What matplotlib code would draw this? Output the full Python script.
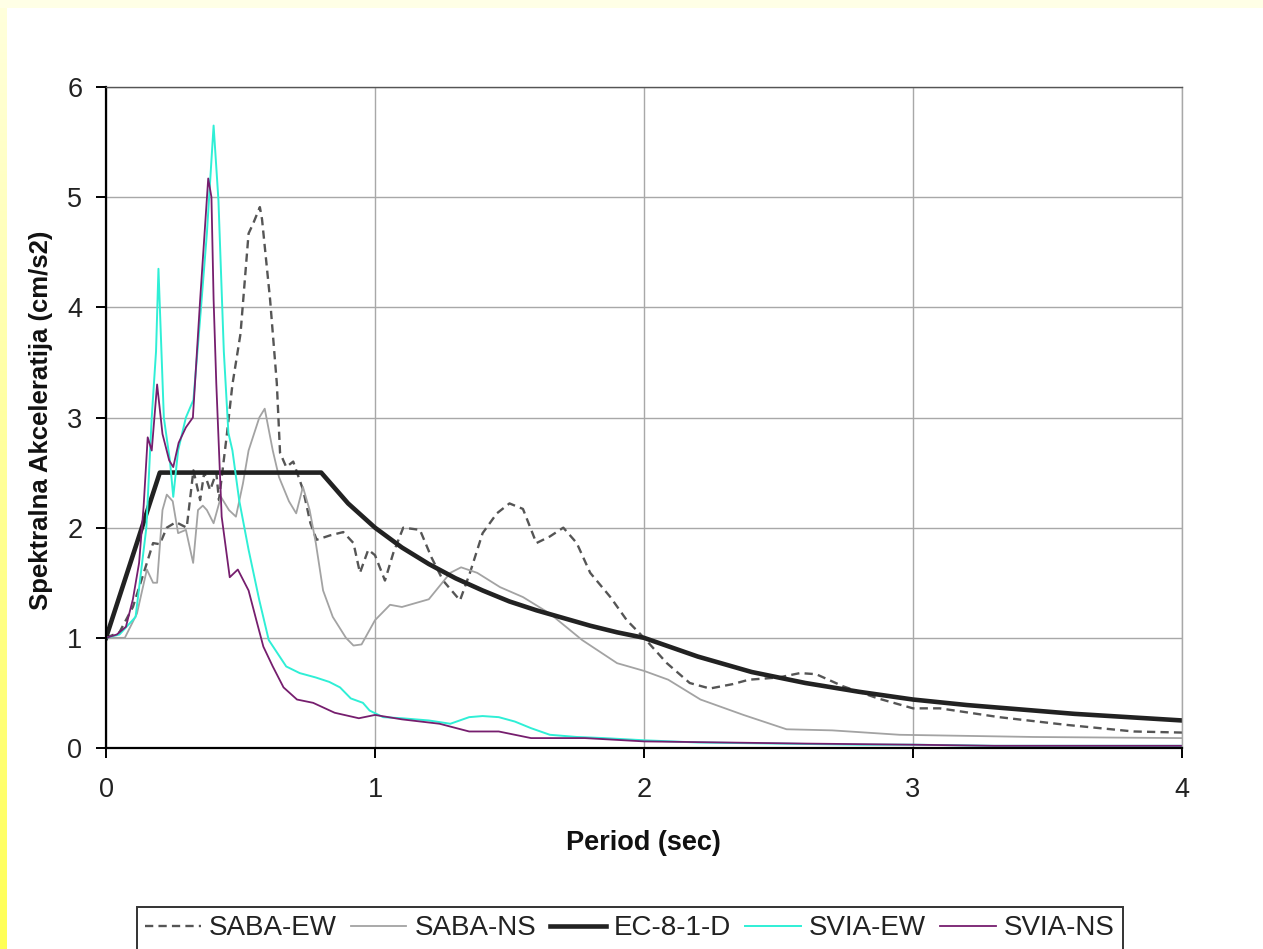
import numpy as np
import matplotlib
matplotlib.use("Agg")
import matplotlib.pyplot as plt
from matplotlib.colors import LinearSegmentedColormap

plt.rcParams['font.family'] = ['Liberation Sans', 'DejaVu Sans']

# ---------------- data ----------------
labels = ["SABA-EW", "SABA-NS", "EC-8-1-D", "SVIA-EW", "SVIA-NS"]

saba_ew_t = [0, 0.05, 0.1, 0.152, 0.175, 0.2, 0.226, 0.26, 0.3, 0.325, 0.35, 0.365, 0.387,
             0.41, 0.42, 0.45, 0.47, 0.5, 0.53, 0.547, 0.572, 0.58, 0.61, 0.635, 0.647, 0.67,
             0.696, 0.733, 0.76, 0.783, 0.833, 0.882, 0.92, 0.944, 0.975, 1.0, 1.037, 1.068,
             1.105, 1.167, 1.21, 1.253, 1.316, 1.353, 1.40, 1.453, 1.50, 1.55, 1.60, 1.65,
             1.70, 1.75, 1.80, 1.875, 1.936, 2.0, 2.085, 2.17, 2.245, 2.33, 2.39, 2.5, 2.58,
             2.64, 2.74, 2.87, 3.0, 3.1, 3.32, 3.57, 3.82, 4.0]
saba_ew_v = [1.0, 1.05, 1.28, 1.68, 1.86, 1.85, 2.0, 2.05, 2.0, 2.52, 2.25, 2.5, 2.34,
             2.5, 2.25, 2.86, 3.3, 3.76, 4.67, 4.76, 4.91, 4.8, 4.07, 3.31, 2.68, 2.55,
             2.6, 2.34, 2.04, 1.89, 1.93, 1.96, 1.86, 1.59, 1.8, 1.75, 1.52, 1.77,
             2.0, 1.98, 1.73, 1.52, 1.34, 1.59, 1.95, 2.13, 2.22, 2.17, 1.86, 1.92,
             2.0, 1.86, 1.59, 1.37, 1.16, 1.0, 0.77, 0.59, 0.54, 0.58, 0.62, 0.64, 0.68,
             0.67, 0.56, 0.45, 0.36, 0.36, 0.28, 0.21, 0.15, 0.14]

saba_ns_t = [0, 0.07, 0.115, 0.152, 0.175, 0.19, 0.21, 0.226, 0.248, 0.268, 0.297, 0.324,
             0.342, 0.36, 0.375, 0.4, 0.427, 0.457, 0.483, 0.509, 0.53, 0.57, 0.59, 0.62,
             0.643, 0.68, 0.707, 0.732, 0.757, 0.78, 0.807, 0.843, 0.892, 0.92, 0.95, 1.0,
             1.056, 1.1, 1.2, 1.28, 1.32, 1.38, 1.465, 1.55, 1.65, 1.77, 1.9, 2.0, 2.09,
             2.21, 2.37, 2.53, 2.7, 2.95, 3.2, 3.45, 4.0]
saba_ns_v = [1.0, 1.0, 1.22, 1.62, 1.5, 1.5, 2.16, 2.3, 2.24, 1.95, 1.98, 1.68,
             2.16, 2.2, 2.16, 2.04, 2.28, 2.16, 2.1, 2.4, 2.7, 3.0, 3.08, 2.7,
             2.46, 2.24, 2.13, 2.37, 2.16, 1.86, 1.43, 1.19, 1.0, 0.93, 0.94, 1.16,
             1.3, 1.28, 1.35, 1.59, 1.64, 1.59, 1.46, 1.37, 1.22, 0.98, 0.77, 0.7, 0.62,
             0.44, 0.3, 0.17, 0.16, 0.12, 0.11, 0.1, 0.09]

ec8_t = [0, 0.2, 0.8, 0.9, 1.0, 1.1, 1.2, 1.3, 1.4, 1.5, 1.6, 1.7, 1.8, 1.9, 2.0,
         2.2, 2.4, 2.6, 2.8, 3.0, 3.2, 3.4, 3.6, 3.8, 4.0]
ec8_v = [1.0, 2.5, 2.5, 2.22, 2.0, 1.82, 1.67, 1.54, 1.43, 1.33, 1.25, 1.18, 1.11, 1.05, 1.0,
         0.83, 0.69, 0.59, 0.51, 0.44, 0.39, 0.35, 0.31, 0.28, 0.25]

svia_ew_t = [0, 0.05, 0.11, 0.15, 0.17, 0.186, 0.195, 0.215, 0.238, 0.25, 0.268, 0.297,
             0.325, 0.35, 0.375, 0.4, 0.418, 0.438, 0.455, 0.47, 0.495, 0.53, 0.57, 0.605,
             0.67, 0.72, 0.78, 0.83, 0.87, 0.91, 0.955, 0.98, 1.03, 1.1, 1.2, 1.28, 1.35,
             1.4, 1.46, 1.52, 1.58, 1.65, 1.75, 1.85, 2.0, 2.2, 2.5, 2.8, 3.0, 3.3, 3.6, 4.0]
svia_ew_v = [1.0, 1.03, 1.19, 2.0, 3.0, 3.6, 4.35, 3.0, 2.6, 2.28, 2.7, 3.0,
             3.16, 3.9, 4.67, 5.65, 4.97, 3.6, 2.86, 2.7, 2.25, 1.8, 1.34, 0.98,
             0.74, 0.68, 0.64, 0.6, 0.55, 0.45, 0.41, 0.34, 0.28, 0.27, 0.25, 0.22, 0.28,
             0.29, 0.28, 0.24, 0.18, 0.12, 0.1, 0.09, 0.07, 0.05, 0.04, 0.03, 0.03, 0.02, 0.02, 0.02]

svia_ns_t = [0, 0.04, 0.074, 0.1, 0.123, 0.14, 0.155, 0.17, 0.19, 0.21, 0.235, 0.25, 0.27,
             0.297, 0.323, 0.35, 0.38, 0.392, 0.4, 0.41, 0.43, 0.46, 0.49, 0.53, 0.56,
             0.585, 0.62, 0.66, 0.71, 0.77, 0.85, 0.94, 1.0, 1.1, 1.24, 1.35, 1.46, 1.58,
             1.78, 2.0, 2.3, 2.6, 3.0, 3.3, 3.6, 4.0]
svia_ns_v = [1.0, 1.03, 1.1, 1.35, 1.68, 2.2, 2.82, 2.7, 3.3, 2.85, 2.61, 2.55, 2.77,
             2.91, 3.0, 4.07, 5.17, 5.0, 4.07, 3.31, 2.1, 1.55, 1.62, 1.43, 1.15,
             0.92, 0.74, 0.55, 0.44, 0.41, 0.32, 0.27, 0.3, 0.26, 0.22, 0.15, 0.15, 0.09,
             0.09, 0.06, 0.05, 0.04, 0.03, 0.02, 0.02, 0.02]

x_ticks = [0, 1, 2, 3, 4]
y_ticks = [0, 1, 2, 3, 4, 5, 6]
x_label = "Period (sec)"
y_label = "Spektralna Akceleratija (cm/s2)"

# ---------------- figure ----------------
W, H = 1263, 949
fig = plt.figure(figsize=(W / 100, H / 100), dpi=100)
fig.patch.set_facecolor("white")

# decorative yellow strips (slide border)
strip = fig.add_axes([0, 0, 7 / W, 1])
grad = np.linspace(0, 1, 256).reshape(-1, 1)
cmap = LinearSegmentedColormap.from_list("yel", ["#FFFF55", "#FFFFDD"])
strip.imshow(grad, aspect="auto", cmap=cmap, origin="lower", extent=[0, 1, 0, 1])
strip.set_axis_off()
top = fig.add_axes([0, 1 - 8 / H, 1, 8 / H])
top.set_facecolor("#FFFFE6")
top.set_xticks([]); top.set_yticks([])
for s in top.spines.values():
    s.set_visible(False)

ax = fig.add_axes([106 / W, 1 - 748 / H, (1182 - 106) / W, (748 - 87) / H])

ax.plot(saba_ew_t, saba_ew_v, color="#555555", lw=1.7, dashes=(3.5, 2.2), label=labels[0])
ax.plot(saba_ns_t, saba_ns_v, color="#a3a3a3", lw=1.3, label=labels[1])
ax.plot(ec8_t, ec8_v, color="#222222", lw=3.3, label=labels[2], solid_joinstyle="round")
ax.plot(svia_ew_t, svia_ew_v, color="#2FEFD6", lw=1.4, label=labels[3])
ax.plot(svia_ns_t, svia_ns_v, color="#761E6E", lw=1.3, label=labels[4])

ax.set_xlim(0, 4)
ax.set_ylim(0, 6)
ax.set_xticks(x_ticks)
ax.set_yticks(y_ticks)
ax.grid(True, color="#a8a8a8", lw=1.0)
ax.set_axisbelow(True)

for side in ("left", "bottom"):
    ax.spines[side].set_color("black")
    ax.spines[side].set_linewidth(1.6)
ax.spines["top"].set_color("#555555")
ax.spines["top"].set_linewidth(1.0)
ax.spines["right"].set_color("#a8a8a8")
ax.spines["right"].set_linewidth(1.0)

ax.tick_params(axis="x", direction="out", length=7, width=1.4, pad=14, labelsize=19.5,
               labelcolor="#222222")
ax.tick_params(axis="y", direction="out", length=7, width=1.4, pad=10, labelsize=19.5,
               labelcolor="#222222")

fig.text(643 / W, 1 - 843 / H, x_label, ha="center", va="center",
         fontsize=19.5, fontweight="bold", color="#111111")
fig.text(41 / W, 1 - 420 / H, y_label, ha="center", va="center", rotation=90,
         fontsize=18.5, fontweight="bold", color="#111111")

leg = fig.legend(loc="upper center", bbox_to_anchor=(630 / W, 1 - 907 / H),
                 ncol=5, fontsize=20, frameon=True, fancybox=False,
                 handlelength=2.0, handletextpad=0.3, columnspacing=0.5,
                 borderpad=0.3, borderaxespad=0)
leg.get_frame().set_edgecolor("black")
leg.get_frame().set_linewidth(1.4)
for t in leg.get_texts():
    t.set_color("#222222")

fig.savefig("out.png", dpi=100, facecolor="white")
